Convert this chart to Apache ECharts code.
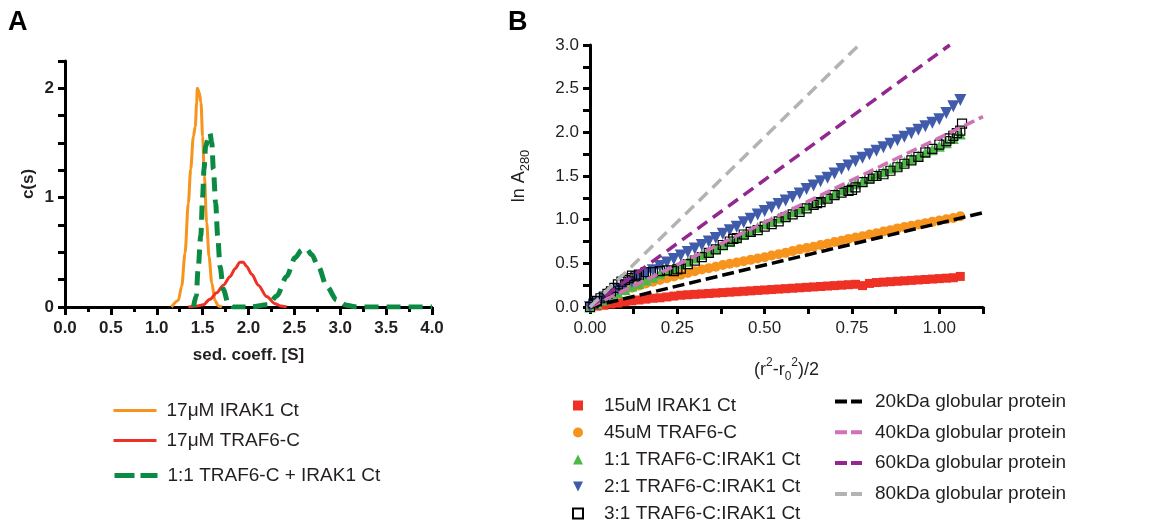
<!DOCTYPE html>
<html><head><meta charset="utf-8">
<script src="https://cdn.jsdelivr.net/npm/echarts@6/dist/echarts.min.js"></script>
<style>html,body{margin:0;padding:0;background:#fff}#c{width:1149px;height:525px}</style>
</head><body><div id="c"></div>
<script>
// ---------- Panel A data (c(s) distributions) ----------
const irak1X = [1.16,1.235,1.272,1.308,1.344,1.37,1.399,1.42,1.435,1.442,1.464,1.482,1.50,1.519,1.544,1.57,1.60,1.635,1.67,1.71];
const irak1Y = [0,0.06,0.19,0.49,0.95,1.26,1.56,1.65,1.87,2.0,1.96,1.87,1.56,1.2,0.77,0.46,0.22,0.06,0.01,0];
const traf6X = [1.344,1.435,1.507,1.58,1.653,1.726,1.80,1.853,1.907,1.943,1.98,2.035,2.107,2.198,2.289,2.35,2.416];
const traf6Y = [0,0.01,0.02,0.07,0.13,0.2,0.28,0.35,0.41,0.41,0.37,0.3,0.2,0.095,0.03,0.01,0];
const mixX = [1.40,1.43,1.45,1.48,1.50,1.515,1.533,1.555,1.58,1.60,1.617,1.642,1.664,1.69,1.726,1.78,1.835,2.0,2.216,2.307,2.416,2.507,2.58,2.634,2.689,2.761,2.852,2.961,3.07,3.18,3.6,4.0];
const mixY = [0,0.1,0.34,0.65,1.01,1.26,1.47,1.52,1.59,1.5,1.26,0.95,0.65,0.37,0.16,0.03,0,0,0.02,0.1,0.28,0.45,0.52,0.53,0.48,0.37,0.19,0.065,0.015,0,0,0];
const aXTicks = [0,0.5,1,1.5,2,2.5,3,3.5,4];
const aYLabels = [0,1,2];

// ---------- Panel B data (ln A280 vs (r^2-r0^2)/2) ----------
const bX = [0,0.02,0.04,0.06,0.08,0.10,0.12,0.14,0.16,0.18,0.20,0.22,0.24,0.26,0.28,0.30,0.32,0.34,0.36,0.38,0.40,0.42,0.44,0.46,0.48,0.50,0.52,0.54,0.56,0.58,0.60,0.62,0.64,0.66,0.68,0.70,0.72,0.74,0.76,0.78,0.80,0.82,0.84,0.86,0.88,0.90,0.92,0.94,0.96,0.98,1.00,1.02,1.04,1.06];
const irak15Y = [0,0.01,0.02,0.035,0.045,0.06,0.07,0.08,0.09,0.10,0.105,0.115,0.125,0.135,0.14,0.145,0.15,0.155,0.16,0.165,0.17,0.175,0.18,0.185,0.19,0.195,0.2,0.205,0.21,0.215,0.22,0.225,0.23,0.235,0.24,0.245,0.25,0.255,0.26,0.245,0.27,0.28,0.285,0.29,0.295,0.3,0.305,0.31,0.315,0.32,0.325,0.33,0.335,0.35];
const traf45Y = [0,0.05,0.09,0.13,0.16,0.19,0.22,0.245,0.27,0.29,0.31,0.33,0.35,0.37,0.39,0.41,0.43,0.445,0.46,0.48,0.495,0.51,0.525,0.54,0.555,0.57,0.59,0.605,0.62,0.64,0.66,0.675,0.69,0.71,0.725,0.745,0.76,0.78,0.795,0.81,0.83,0.845,0.865,0.88,0.9,0.915,0.93,0.945,0.96,0.975,0.99,1.005,1.02,1.04];
const mix11Y = [0,0.04,0.08,0.12,0.16,0.2,0.24,0.27,0.31,0.34,0.38,0.42,0.45,0.49,0.52,0.56,0.6,0.63,0.67,0.71,0.75,0.79,0.83,0.87,0.91,0.95,0.98,1.02,1.05,1.09,1.12,1.16,1.19,1.23,1.26,1.3,1.34,1.37,1.41,1.44,1.48,1.52,1.55,1.59,1.62,1.66,1.7,1.73,1.77,1.8,1.84,1.88,1.93,1.98];
const mix21Y = [0,0.05,0.1,0.15,0.2,0.25,0.29,0.33,0.38,0.42,0.47,0.51,0.55,0.59,0.63,0.67,0.71,0.75,0.79,0.84,0.88,0.92,0.97,1.01,1.06,1.1,1.14,1.18,1.22,1.26,1.3,1.35,1.39,1.44,1.48,1.53,1.58,1.62,1.67,1.71,1.75,1.79,1.83,1.87,1.91,1.95,1.99,2.03,2.07,2.11,2.15,2.22,2.3,2.37];
const mix31X = [0,0.01,0.02,0.03,0.04,0.05,0.06,0.07,0.08,0.09,0.10,0.11,0.12,0.13,0.14,0.16,0.18,0.20,0.22,0.24,0.25,0.26,0.28,0.30,0.32,0.34,0.36,0.38,0.40,0.41,0.42,0.44,0.46,0.48,0.50,0.52,0.54,0.56,0.58,0.60,0.62,0.64,0.65,0.66,0.68,0.70,0.72,0.74,0.75,0.76,0.78,0.80,0.81,0.82,0.84,0.86,0.88,0.90,0.92,0.94,0.96,0.98,1.00,1.02,1.03,1.04,1.05,1.06,1.065];
const mix31Y = [0,0.04,0.07,0.1,0.12,0.15,0.18,0.22,0.26,0.29,0.31,0.33,0.36,0.35,0.37,0.4,0.4,0.41,0.42,0.41,0.43,0.44,0.49,0.53,0.57,0.62,0.66,0.71,0.75,0.78,0.79,0.83,0.86,0.88,0.92,0.95,0.98,1.03,1.06,1.09,1.13,1.17,1.19,1.2,1.24,1.28,1.31,1.33,1.34,1.37,1.43,1.47,1.5,1.5,1.52,1.56,1.6,1.64,1.68,1.72,1.77,1.81,1.86,1.9,1.93,1.96,1.99,2.02,2.1];
const lineEndX = {k20:1.125, k40:1.125, k60:1.03, k80:0.77};
const lineEndY = {k20:1.08, k40:2.18, k60:3.0, k80:3.0};

const FONT = '"Liberation Sans", Arial, sans-serif';
const TXT = '#231f20';
const zip = (xs, ys) => xs.map((x, i) => [x, ys[i]]);

const chart = echarts.init(document.getElementById('c'), null, {renderer: 'canvas'});

const axisLineA = {show: true, lineStyle: {color: '#000', width: 3}};
const legText = (pad) => ({fontSize: 19, lineHeight: 19, color: TXT, fontFamily: FONT, padding: [0,0,0,pad]});
const option = {
  animation: false,
  backgroundColor: '#fff',
  textStyle: {fontFamily: FONT},
  graphic: [
    {type: 'text', left: 8, top: 9, style: {text: 'A', fontSize: 27, fontWeight: 'bold', fontFamily: FONT, fill: '#000'}},
    {type: 'text', left: 508, top: 9, style: {text: 'B', fontSize: 27, fontWeight: 'bold', fontFamily: FONT, fill: '#000'}}
  ],
  grid: [
    {left: 65, top: 61, width: 367, height: 246},
    {left: 590, top: 45, width: 393, height: 262}
  ],
  xAxis: [
    {gridIndex: 0, type: 'value', min: 0, max: 4, interval: 0.5,
     name: 'sed. coeff. [S]', nameLocation: 'middle', nameGap: 40,
     nameTextStyle: {fontSize: 17, fontWeight: 'bold', color: TXT, fontFamily: FONT},
     axisLine: axisLineA,
     axisTick: {show: true, inside: false, length: 8, lineStyle: {color: '#000', width: 3}},
     minorTick: {show: true, splitNumber: 2, length: 5, lineStyle: {color: '#000', width: 3}},
     splitLine: {show: false},
     axisLabel: {fontSize: 17, fontWeight: 'bold', color: TXT, margin: 13, fontFamily: FONT,
       formatter: v => aXTicks.some(t => Math.abs(t - v) < 1e-6) ? v.toFixed(1) : ''}},
    {gridIndex: 1, type: 'value', min: 0, max: 1.125, interval: 0.125,
     name: '{t|(r}{sup|2}{t|-r}{sub|0}{sup|2}{t|)/2}', nameLocation: 'middle', nameGap: 50,
     nameTextStyle: {fontSize: 18, color: TXT, fontFamily: FONT,
       rich: {t: {fontSize: 18, color: TXT, fontFamily: FONT, lineHeight: 26},
              sup: {fontSize: 12, color: TXT, fontFamily: FONT, verticalAlign: 'top', lineHeight: 26},
              sub: {fontSize: 12, color: TXT, fontFamily: FONT, verticalAlign: 'bottom', lineHeight: 26}}},
     axisLine: axisLineA,
     axisTick: {show: true, inside: false, length: 7, lineStyle: {color: '#000', width: 3}},
     splitLine: {show: false},
     axisLabel: {fontSize: 17, color: TXT, margin: 13, fontFamily: FONT,
       formatter: v => (Math.abs(v / 0.25 - Math.round(v / 0.25)) < 1e-6 && v <= 1.0001) ? v.toFixed(2) : ''}}
  ],
  yAxis: [
    {gridIndex: 0, type: 'value', min: 0, max: 2.25, interval: 0.25,
     name: 'c(s)', nameLocation: 'middle', nameGap: 28, nameRotate: 90,
     nameTextStyle: {fontSize: 17, fontWeight: 'bold', color: TXT, fontFamily: FONT},
     axisLine: axisLineA,
     axisTick: {show: true, inside: false, length: 7, lineStyle: {color: '#000', width: 3}},
     splitLine: {show: false},
     axisLabel: {fontSize: 17, fontWeight: 'bold', color: TXT, margin: 11, fontFamily: FONT,
       formatter: v => aYLabels.some(t => Math.abs(t - v) < 1e-6) ? String(Math.round(v)) : ''}},
    {gridIndex: 1, type: 'value', min: 0, max: 3, interval: 0.25,
     name: '{t|ln A}{sub|280}', nameLocation: 'middle', nameGap: 58, nameRotate: 90,
     nameTextStyle: {fontSize: 18, color: TXT, fontFamily: FONT,
       rich: {t: {fontSize: 18, color: TXT, fontFamily: FONT, lineHeight: 26},
              sub: {fontSize: 13, color: TXT, fontFamily: FONT, verticalAlign: 'bottom', lineHeight: 26}}},
     axisLine: axisLineA,
     axisTick: {show: true, inside: false, length: 7, lineStyle: {color: '#000', width: 3}},
     splitLine: {show: false},
     axisLabel: {fontSize: 17, color: TXT, margin: 11, fontFamily: FONT,
       formatter: v => (Math.abs(v / 0.5 - Math.round(v / 0.5)) < 1e-6) ? v.toFixed(1) : ''}}
  ],
  legend: [
    {data: ['17μM IRAK1 Ct'], left: 112, top: 401, padding: 0, itemWidth: 43, itemHeight: 14,
     itemStyle: {opacity: 0}, lineStyle: {width: 3}, textStyle: legText(5)},
    {data: ['17μM TRAF6-C'], left: 112, top: 431, padding: 0, itemWidth: 43, itemHeight: 14,
     itemStyle: {opacity: 0}, lineStyle: {width: 3}, textStyle: legText(5)},
    {data: ['1:1 TRAF6-C + IRAK1 Ct'], left: 112, top: 466, padding: 0, itemWidth: 43, itemHeight: 14,
     itemStyle: {opacity: 0}, lineStyle: {width: 5, type: [20, 6]}, textStyle: legText(5)},
    {data: ['15uM IRAK1 Ct','45uM TRAF6-C','1:1 TRAF6-C:IRAK1 Ct','2:1 TRAF6-C:IRAK1 Ct','3:1 TRAF6-C:IRAK1 Ct'],
     orient: 'vertical', left: 572, top: 396, padding: 0, itemWidth: 10, itemHeight: 10, itemGap: 8,
     textStyle: legText(16)},
    {data: ['20kDa globular protein','40kDa globular protein','60kDa globular protein','80kDa globular protein'],
     orient: 'vertical', left: 833, top: 392, padding: 0, itemWidth: 27, itemHeight: 12, itemGap: 11.8,
     itemStyle: {opacity: 0}, lineStyle: {width: 4, type: [12, 4]}, textStyle: legText(8)}
  ],
  series: [
    {name: '17μM IRAK1 Ct', type: 'line', xAxisIndex: 0, yAxisIndex: 0, data: zip(irak1X, irak1Y),
     showSymbol: false, symbol: 'none', smooth: 0.3, smoothMonotone: 'x', lineStyle: {color: '#f7941d', width: 3}, itemStyle: {color: '#f7941d'}, z: 3},
    {name: '17μM TRAF6-C', type: 'line', xAxisIndex: 0, yAxisIndex: 0, data: zip(traf6X, traf6Y),
     showSymbol: false, symbol: 'none', smooth: 0.3, smoothMonotone: 'x', lineStyle: {color: '#ee3124', width: 3}, itemStyle: {color: '#ee3124'}, z: 3},
    {name: '1:1 TRAF6-C + IRAK1 Ct', type: 'line', xAxisIndex: 0, yAxisIndex: 0, data: zip(mixX, mixY),
     showSymbol: false, symbol: 'none', smooth: 0.3, smoothMonotone: 'x', lineStyle: {color: '#0b8a43', width: 5, type: [14, 8]}, itemStyle: {color: '#0b8a43'}, z: 4},

    {name: '15uM IRAK1 Ct', type: 'scatter', xAxisIndex: 1, yAxisIndex: 1, data: zip(bX, irak15Y),
     symbol: 'rect', symbolSize: 9, itemStyle: {color: '#ee3124', opacity: 1}, z: 2},
    {name: '45uM TRAF6-C', type: 'scatter', xAxisIndex: 1, yAxisIndex: 1, data: zip(bX, traf45Y),
     symbol: 'circle', symbolSize: 10, itemStyle: {color: '#f7941d', opacity: 1}, z: 2},
    {name: '1:1 TRAF6-C:IRAK1 Ct', type: 'scatter', xAxisIndex: 1, yAxisIndex: 1, data: zip(bX, mix11Y),
     symbol: 'triangle', symbolSize: 11, itemStyle: {color: '#4db848', opacity: 1}, z: 2},
    {name: '2:1 TRAF6-C:IRAK1 Ct', type: 'scatter', xAxisIndex: 1, yAxisIndex: 1, data: zip(bX, mix21Y),
     symbol: 'path://M0,0 L10,0 L5,10 Z', symbolSize: 12, itemStyle: {color: '#3f5ba9', opacity: 1}, z: 2},
    {name: '3:1 TRAF6-C:IRAK1 Ct', type: 'scatter', xAxisIndex: 1, yAxisIndex: 1, data: zip(mix31X, mix31Y),
     symbol: 'rect', symbolSize: 9, itemStyle: {color: 'rgba(0,0,0,0)', borderColor: '#000', borderWidth: 1.2, opacity: 1}, z: 3},

    {name: '20kDa globular protein', type: 'line', xAxisIndex: 1, yAxisIndex: 1, data: [[0,0],[lineEndX.k20, lineEndY.k20]],
     symbol: 'none', showSymbol: false, lineStyle: {color: '#000', width: 3.5, type: [12, 5]}, itemStyle: {color: '#000'}, z: 5},
    {name: '40kDa globular protein', type: 'line', xAxisIndex: 1, yAxisIndex: 1, data: [[0,0],[lineEndX.k40, lineEndY.k40]],
     symbol: 'none', showSymbol: false, lineStyle: {color: '#cf72b6', width: 3.5, type: [11, 5]}, itemStyle: {color: '#cf72b6'}, z: 5},
    {name: '60kDa globular protein', type: 'line', xAxisIndex: 1, yAxisIndex: 1, data: [[0,0],[lineEndX.k60, lineEndY.k60]],
     symbol: 'none', showSymbol: false, lineStyle: {color: '#93278f', width: 3.5, type: [12, 7]}, itemStyle: {color: '#93278f'}, z: 5},
    {name: '80kDa globular protein', type: 'line', xAxisIndex: 1, yAxisIndex: 1, data: [[0,0],[lineEndX.k80, lineEndY.k80]],
     symbol: 'none', showSymbol: false, lineStyle: {color: '#b3b3b3', width: 3.5, type: [12, 7]}, itemStyle: {color: '#b3b3b3'}, z: 5}
  ]
};
chart.setOption(option);
</script></body></html>
